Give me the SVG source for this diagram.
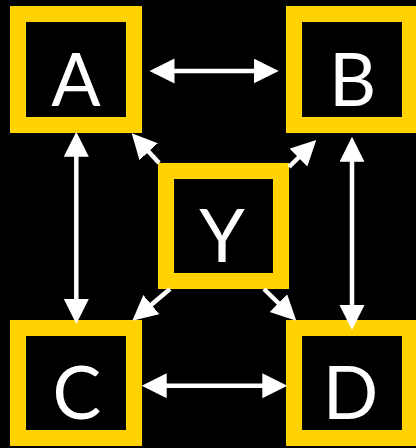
<svg xmlns="http://www.w3.org/2000/svg" width="416" height="448" viewBox="0 0 416 448">
<style>
.box{fill:#000;stroke:#FFD200;stroke-width:16}
.lbl{fill:#fff;font-family:Lato,"Open Sans","DejaVu Sans",sans-serif;font-size:73px;text-anchor:middle}
.c{stroke:#fff;stroke-width:4.5;fill:none}
</style>
<defs>
<marker id="ah" markerUnits="userSpaceOnUse" markerWidth="26" markerHeight="26" viewBox="0 0 26 26" refX="20" refY="12.5" orient="auto-start-reverse">
<path d="M0,0 L25,12.5 L0,25 Z" fill="#fff"/>
</marker>
</defs>
<rect width="416" height="448" fill="#000"/>
<g id="A"><rect class="box" x="18" y="14" width="116" height="111"/><text class="lbl" x="76" y="106">A</text></g>
<g id="B"><rect class="box" x="294" y="14" width="116" height="111"/><text class="lbl" x="352.5" y="106">B</text></g>
<g id="C"><rect class="box" x="18" y="328" width="116" height="110"/><text class="lbl" x="77" y="419">C</text></g>
<g id="D"><rect class="box" x="294" y="328" width="116" height="110"/><text class="lbl" x="350.5" y="419">D</text></g>
<g id="Y"><rect class="box" x="166" y="171" width="115" height="110"/><text class="lbl" x="222" y="261.5">Y</text></g>
<g id="connectors">
<line class="c" x1="154.5" y1="71" x2="273.7" y2="71" marker-start="url(#ah)" marker-end="url(#ah)"/>
<line class="c" x1="146.7" y1="385.7" x2="282.3" y2="385.7" marker-start="url(#ah)" marker-end="url(#ah)"/>
<line class="c" x1="76.3" y1="136.7" x2="76.3" y2="319" marker-start="url(#ah)" marker-end="url(#ah)"/>
<line class="c" x1="352" y1="141.7" x2="352" y2="325" marker-start="url(#ah)" marker-end="url(#ah)"/>
<line class="c" x1="159.1" y1="163" x2="135.1" y2="137" marker-end="url(#ah)"/>
<line class="c" x1="289" y1="167" x2="312.7" y2="143.5" marker-end="url(#ah)"/>
<line class="c" x1="170" y1="289" x2="136.1" y2="317.5" marker-end="url(#ah)"/>
<line class="c" x1="264" y1="289" x2="292.7" y2="317.2" marker-end="url(#ah)"/>
</g>
</svg>
